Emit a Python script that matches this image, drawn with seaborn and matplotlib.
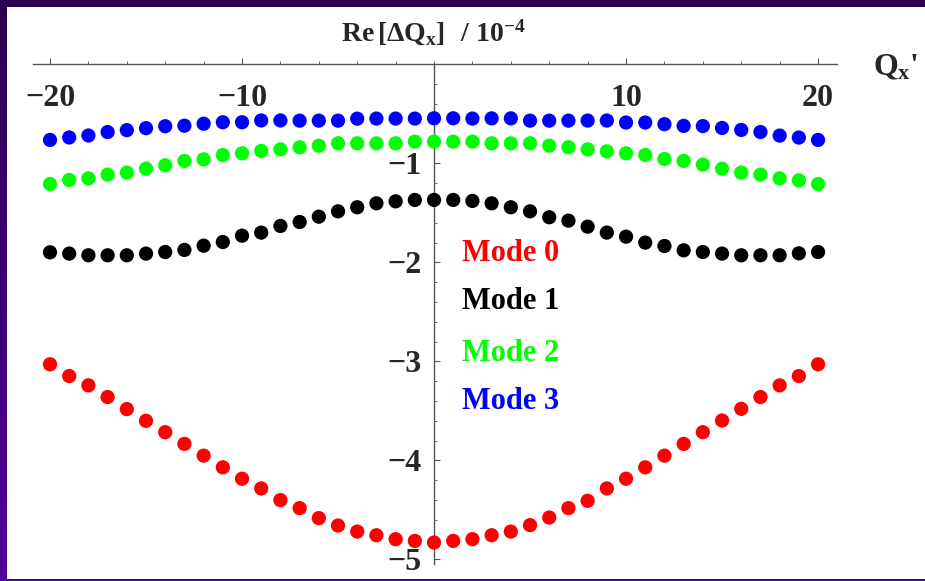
import numpy as np
import pandas as pd
import matplotlib
matplotlib.use("Agg")
import matplotlib.pyplot as plt
from matplotlib.ticker import FixedLocator
from matplotlib.colors import LinearSegmentedColormap
import seaborn as sns

# chromaticity Q_x' values
qx = list(range(-20, 21))

# Re[dQx] / 1e-4
mode0 = [-3.030, -3.149, -3.243, -3.361, -3.483, -3.601, -3.716, -3.834, -3.953, -4.071,
         -4.186, -4.284, -4.402, -4.483, -4.584, -4.659, -4.720, -4.757, -4.797, -4.814,
         -4.831,
         -4.814, -4.797, -4.757, -4.720, -4.655, -4.578, -4.483, -4.409, -4.284, -4.186,
         -4.071, -3.953, -3.834, -3.716, -3.598, -3.480, -3.361, -3.243, -3.149, -3.030]
mode1 = [-1.899, -1.912, -1.929, -1.929, -1.929, -1.912, -1.896, -1.875, -1.832, -1.795,
         -1.731, -1.700, -1.633, -1.593, -1.539, -1.485, -1.444, -1.404, -1.384, -1.370,
         -1.370,
         -1.370, -1.380, -1.404, -1.444, -1.485, -1.545, -1.579, -1.640, -1.700, -1.741,
         -1.801, -1.835, -1.879, -1.896, -1.912, -1.929, -1.929, -1.929, -1.909, -1.896]
mode2 = [-1.209, -1.168, -1.152, -1.114, -1.094, -1.054, -1.020, -0.976, -0.960, -0.916,
         -0.899, -0.875, -0.859, -0.838, -0.822, -0.798, -0.798, -0.798, -0.798, -0.781,
         -0.781,
         -0.781, -0.781, -0.798, -0.798, -0.798, -0.822, -0.838, -0.859, -0.879, -0.899,
         -0.916, -0.956, -0.976, -1.013, -1.054, -1.094, -1.114, -1.152, -1.172, -1.209]
mode3 = [-0.764, -0.739, -0.719, -0.684, -0.665, -0.645, -0.625, -0.620, -0.600, -0.585,
         -0.585, -0.567, -0.567, -0.569, -0.569, -0.569, -0.549, -0.548, -0.548, -0.548,
         -0.545,
         -0.545, -0.548, -0.546, -0.546, -0.569, -0.569, -0.569, -0.568, -0.568, -0.588,
         -0.588, -0.605, -0.622, -0.624, -0.643, -0.663, -0.684, -0.720, -0.740, -0.764]

mode_names = ["Mode 0", "Mode 1", "Mode 2", "Mode 3"]
mode_colors = ["#ff0000", "#000000", "#00ff00", "#0000ff"]

x_major = [-20, -10, 10, 20]
x_minor = list(range(-20, 21, 2))
y_major = [-1, -2, -3, -4, -5]
y_minor = [round(-0.2 * i, 1) for i in range(1, 26)]

df = pd.concat([
    pd.DataFrame({"qx": qx, "re": vals, "mode": name})
    for name, vals in zip(mode_names, [mode0, mode1, mode2, mode3])
])

sns.set_style("white")
plt.rcParams["font.family"] = ["Liberation Serif", "DejaVu Serif"]
plt.rcParams["font.weight"] = "bold"
plt.rcParams["mathtext.fontset"] = "custom"
plt.rcParams["mathtext.rm"] = "Liberation Serif:bold"
plt.rcParams["mathtext.it"] = "Liberation Serif:bold"
plt.rcParams["mathtext.bf"] = "Liberation Serif:bold"

W, H = 925, 581
fig = plt.figure(figsize=(W / 100, H / 100), dpi=100)

# purple frame background
bg = fig.add_axes([0, 0, 1, 1])
cmap = LinearSegmentedColormap.from_list("frame", ["#2c0050", "#52009c"])
bg.imshow(np.linspace(0, 1, 256).reshape(-1, 1), aspect="auto", cmap=cmap,
          extent=[0, 1, 0, 1], origin="upper")
bg.set_axis_off()

ax = fig.add_axes([7 / W, 2 / H, (W - 7) / W, (579 - 7) / H])
ax.set_facecolor("white")

sns.scatterplot(data=df, x="qx", y="re", hue="mode", palette=mode_colors,
                s=105, linewidth=0, legend=False, ax=ax, zorder=3)

ax.set_xlim(-22.24, 25.57)
ax.set_ylim(-5.199, 0.579)

for s in ["top", "right"]:
    ax.spines[s].set_visible(False)
ax.spines["bottom"].set_position(("data", 0))
ax.spines["left"].set_position(("data", 0))
ax.spines["bottom"].set_bounds(-20.9, 21.0)
ax.spines["left"].set_bounds(-5.05, 0)
for s in ["bottom", "left"]:
    ax.spines[s].set_color("#555555")
    ax.spines[s].set_linewidth(1.0)

ax.xaxis.set_major_locator(FixedLocator(x_major))
ax.xaxis.set_minor_locator(FixedLocator(x_minor))
ax.yaxis.set_major_locator(FixedLocator(y_major))
ax.yaxis.set_minor_locator(FixedLocator(y_minor))
ax.xaxis.set_ticks_position("bottom")
ax.yaxis.set_ticks_position("left")
ax.tick_params(which="major", direction="in", length=4, width=0.8, color="#555555",
               labelsize=23)
ax.tick_params(which="minor", direction="in", length=2.5, width=0.6, color="#555555")
ax.tick_params(axis="x", which="major", pad=14)
ax.tick_params(axis="y", which="major", pad=9)
for lab in ax.get_xticklabels() + ax.get_yticklabels():
    lab.set_fontweight("bold")
ax.set_xlabel("")
ax.set_ylabel("")

ax.text(0, 0.32, r"$\mathrm{Re}\,[\Delta Q_x]\ \ /\ 10^{-4}$", fontsize=20,
        ha="center", va="center")
ax.text(24.05, -0.04, r"$Q_x$'", fontsize=23, ha="center", va="center")

label_y = [-1.916, -2.40, -2.92, -3.41]
for name, col, yy in zip(mode_names, mode_colors, label_y):
    ax.text(1.46, yy, name, color=col, fontsize=22, fontweight="bold",
            ha="left", va="center")

fig.savefig("out.png", dpi=100)
